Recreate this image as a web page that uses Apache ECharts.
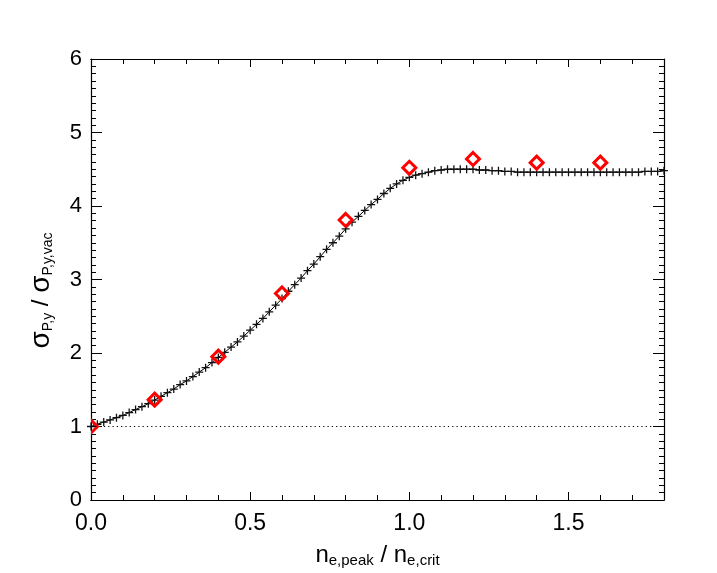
<!DOCTYPE html>
<html>
<head>
<meta charset="utf-8">
<script src="https://cdn.jsdelivr.net/npm/echarts@6/dist/echarts.min.js"></script>
<style>
html, body { margin: 0; padding: 0; background: #fff; }
#sigmaChart { width: 717px; height: 573px; }
</style>
</head>
<body>
<div id="sigmaChart"></div>
<script>
// simulated curve (crosses + line)
var simX = [0.00, 0.02, 0.04, 0.06, 0.08, 0.10, 0.12, 0.14, 0.16, 0.18,
	0.20, 0.22, 0.24, 0.26, 0.28, 0.30, 0.32, 0.34, 0.36, 0.38,
	0.40, 0.42, 0.44, 0.46, 0.48, 0.50, 0.52, 0.54, 0.56, 0.58,
	0.60, 0.62, 0.64, 0.66, 0.68, 0.70, 0.72, 0.74, 0.76, 0.78,
	0.80, 0.82, 0.84, 0.86, 0.88, 0.90, 0.92, 0.94, 0.96, 0.98,
	1.00, 1.02, 1.04, 1.06, 1.08, 1.10, 1.12, 1.14, 1.16, 1.18,
	1.20, 1.22, 1.24, 1.26, 1.28, 1.30, 1.32, 1.34, 1.36, 1.38,
	1.40, 1.42, 1.44, 1.46, 1.48, 1.50, 1.52, 1.54, 1.56, 1.58,
	1.60, 1.62, 1.64, 1.66, 1.68, 1.70, 1.72, 1.74, 1.76, 1.78, 1.80];
var simY = [1.00, 1.03, 1.06, 1.09, 1.12, 1.15, 1.19, 1.23, 1.27, 1.31,
	1.36, 1.41, 1.46, 1.51, 1.57, 1.62, 1.68, 1.74, 1.80, 1.87,
	1.94, 2.01, 2.08, 2.15, 2.23, 2.31, 2.39, 2.47, 2.56, 2.65,
	2.74, 2.84, 2.93, 3.02, 3.12, 3.21, 3.31, 3.41, 3.50, 3.59,
	3.69, 3.78, 3.86, 3.94, 4.02, 4.09, 4.17, 4.24, 4.30, 4.35,
	4.39, 4.42, 4.44, 4.46, 4.48, 4.49, 4.50, 4.50, 4.50, 4.50,
	4.50, 4.49, 4.49, 4.48, 4.48, 4.47, 4.47, 4.46, 4.46, 4.46,
	4.46, 4.46, 4.46, 4.46, 4.46, 4.46, 4.46, 4.46, 4.46, 4.46,
	4.46, 4.46, 4.46, 4.46, 4.46, 4.46, 4.46, 4.47, 4.47, 4.47, 4.48];

// red diamonds
var dotX = [0.0, 0.2, 0.4, 0.6, 0.8, 1.0, 1.2, 1.4, 1.6];
var dotY = [1.00, 1.365, 1.95, 2.81, 3.81, 4.52, 4.64, 4.59, 4.59];

// dotted reference level
var refLevel = 1;

var xMin = 0, xMax = 1.8, xMajor = 0.5, xMinor = 0.1;
var yMin = 0, yMax = 6, yMajor = 1;

var FONT = 'Liberation Sans';

var simData = [];
for (var i = 0; i < simX.length; i++) simData.push([simX[i], simY[i]]);
var dotData = [];
for (var j = 0; j < dotX.length; j++) dotData.push([dotX[j], dotY[j]]);

function xAx(pos, interval, tickLen, withLabels) {
	var ax = {
		type: 'value', position: pos, min: xMin, max: xMax, interval: interval,
		axisLine: { show: true, onZero: false, lineStyle: { color: '#000', width: 1.2 } },
		axisTick: { show: true, inside: true, length: tickLen, lineStyle: { color: '#000', width: 1 } },
		axisLabel: { show: false },
		splitLine: { show: false }
	};
	if (withLabels) {
		ax.axisLabel = {
			show: true, fontFamily: FONT, fontSize: 23, color: '#000', margin: 12,
			showMaxLabel: false,
			formatter: function (v) { return v.toFixed(1); }
		};
		ax.name = '{m|n}{s|e,peak}{m| / n}{s|e,crit}';
		ax.nameLocation = 'middle';
		ax.nameGap = 42;
		ax.nameTextStyle = {
			fontFamily: FONT, color: '#000',
			rich: {
				m: { fontFamily: FONT, fontSize: 24, color: '#000', lineHeight: 26 },
				s: { fontFamily: FONT, fontSize: 15, color: '#000', lineHeight: 10, verticalAlign: 'bottom' }
			}
		};
	}
	return ax;
}

function yAx(pos, withLabels) {
	var ax = {
		type: 'value', position: pos, min: yMin, max: yMax, interval: yMajor,
		axisLine: { show: true, onZero: false, lineStyle: { color: '#000', width: 1.2 } },
		axisTick: { show: true, inside: true, length: 11, lineStyle: { color: '#000', width: 1 } },
		minorTick: { show: true, splitNumber: 10, length: 5, lineStyle: { color: '#000', width: 1 } },
		axisLabel: { show: false },
		splitLine: { show: false }
	};
	if (withLabels) {
		ax.axisLabel = { show: true, fontFamily: FONT, fontSize: 22, color: '#000', margin: 9 };
		ax.name = '{g|σ}{s|P,y}{m| / }{g|σ}{s|P,y,vac}';
		ax.nameLocation = 'middle';
		ax.nameGap = 36;
		ax.nameTextStyle = {
			fontFamily: FONT, color: '#000',
			padding: [0, 22, 0, 0],
			rich: {
				m: { fontFamily: FONT, fontSize: 24, color: '#000', lineHeight: 28 },
				g: { fontFamily: FONT, fontSize: 28, color: '#000', lineHeight: 28 },
				s: { fontFamily: FONT, fontSize: 14, color: '#000', lineHeight: 10, verticalAlign: 'bottom' }
			}
		};
	}
	return ax;
}

// hollow red diamonds, clipped to the plot box like the original
function renderDiamond(params, api) {
	var p = api.coord([api.value(0), api.value(1)]);
	var r = 6.5;
	return {
		type: 'polygon',
		shape: { points: [[p[0], p[1] - r], [p[0] + r, p[1]], [p[0], p[1] + r], [p[0] - r, p[1]]] },
		style: { fill: 'none', stroke: '#ff0000', lineWidth: 3, lineJoin: 'miter' }
	};
}

var sigmaChart = echarts.init(document.getElementById('sigmaChart'));
var sigmaOption = {
	animation: false,
	backgroundColor: '#fff',
	grid: { left: 91, right: 53, top: 59, bottom: 70 },
	xAxis: [
		xAx('bottom', xMajor, 8, true),
		xAx('bottom', xMinor, 5, false),
		xAx('top', xMajor, 8, false),
		xAx('top', xMinor, 5, false)
	],
	yAxis: [
		yAx('left', true),
		yAx('right', false)
	],
	series: [{
		name: 'sim',
		type: 'line',
		data: simData,
		xAxisIndex: 0, yAxisIndex: 0,
		symbol: 'path://M4.2,0H5.8V4.2H10V5.8H5.8V10H4.2V5.8H0V4.2H4.2Z',
		symbolSize: 8,
		showAllSymbol: true,
		itemStyle: { color: '#111' },
		lineStyle: { color: '#000', width: 1 },
		clip: true,
		markLine: {
			silent: true,
			symbol: ['none', 'none'],
			label: { show: false },
			lineStyle: { color: '#000', width: 1, type: [1.2, 3.1] },
			data: [{ yAxis: refLevel }]
		},
		z: 2
	}, {
		name: 'model',
		type: 'custom',
		data: dotData,
		xAxisIndex: 0, yAxisIndex: 0,
		renderItem: renderDiamond,
		clip: true,
		z: 3
	}]
};
sigmaChart.setOption(sigmaOption);
</script>
</body>
</html>
